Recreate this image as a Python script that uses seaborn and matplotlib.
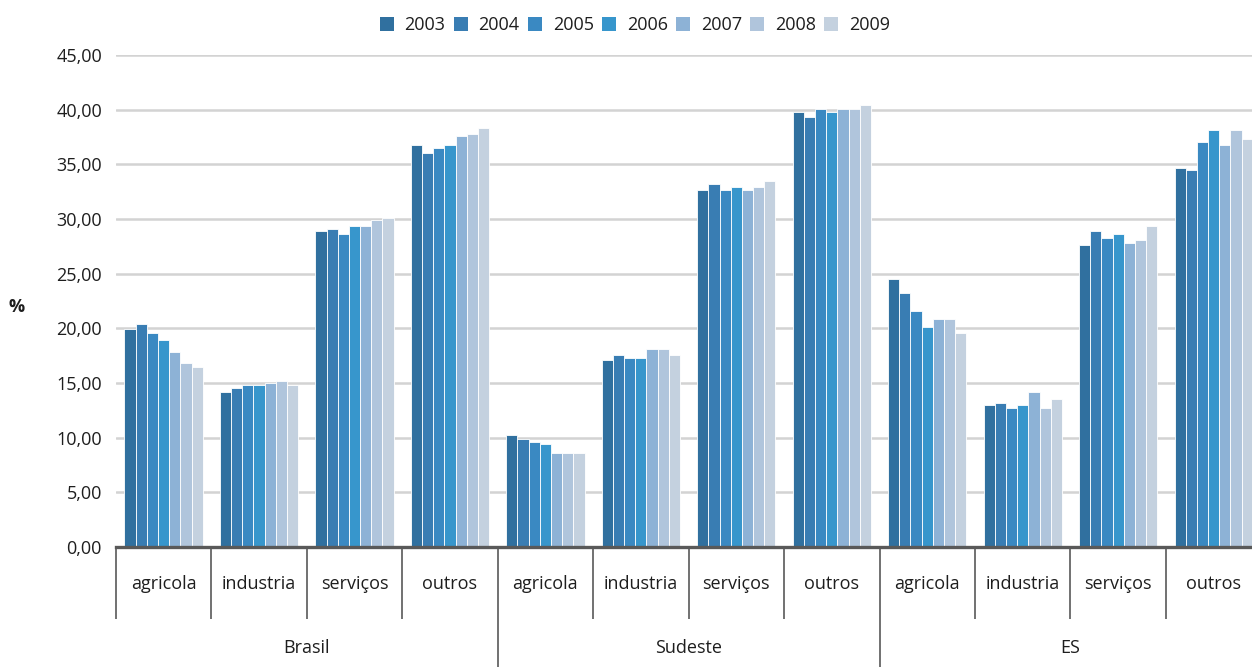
import matplotlib
matplotlib.use("Agg")
import matplotlib.pyplot as plt
import matplotlib.transforms as mtransforms
from matplotlib.patches import Patch
from matplotlib.ticker import FuncFormatter, MultipleLocator
import seaborn as sns
import pandas as pd

# Participação (%) por setor, região e ano
regions = ["Brasil", "Sudeste", "ES"]
sectors = ["agricola", "industria", "serviços", "outros"]
years = ["2003", "2004", "2005", "2006", "2007", "2008", "2009"]

brasil_agricola = [19.9, 20.4, 19.6, 18.9, 17.8, 16.8, 16.5]
brasil_industria = [14.2, 14.5, 14.8, 14.8, 15.0, 15.2, 14.8]
brasil_servicos = [28.9, 29.1, 28.6, 29.4, 29.4, 29.9, 30.1]
brasil_outros = [36.8, 36.0, 36.5, 36.8, 37.6, 37.8, 38.3]

sudeste_agricola = [10.2, 9.9, 9.6, 9.4, 8.6, 8.6, 8.6]
sudeste_industria = [17.1, 17.6, 17.3, 17.3, 18.1, 18.1, 17.6]
sudeste_servicos = [32.7, 33.2, 32.7, 32.9, 32.7, 32.9, 33.5]
sudeste_outros = [39.8, 39.3, 40.1, 39.8, 40.1, 40.1, 40.4]

es_agricola = [24.5, 23.2, 21.6, 20.1, 20.9, 20.9, 19.6]
es_industria = [13.0, 13.2, 12.7, 13.0, 14.2, 12.7, 13.5]
es_servicos = [27.6, 28.9, 28.3, 28.6, 27.8, 28.1, 29.4]
es_outros = [34.7, 34.5, 37.0, 38.1, 36.8, 38.1, 37.3]

year_colors = ["#30709f", "#397db3", "#3a89c2", "#3796cc",
               "#8db2d6", "#b0c5dc", "#c4d1df"]

series = {
    ("Brasil", "agricola"): brasil_agricola,
    ("Brasil", "industria"): brasil_industria,
    ("Brasil", "serviços"): brasil_servicos,
    ("Brasil", "outros"): brasil_outros,
    ("Sudeste", "agricola"): sudeste_agricola,
    ("Sudeste", "industria"): sudeste_industria,
    ("Sudeste", "serviços"): sudeste_servicos,
    ("Sudeste", "outros"): sudeste_outros,
    ("ES", "agricola"): es_agricola,
    ("ES", "industria"): es_industria,
    ("ES", "serviços"): es_servicos,
    ("ES", "outros"): es_outros,
}

rows = []
order = []
for region in regions:
    for sector in sectors:
        key = f"{region}|{sector}"
        order.append(key)
        for year, value in zip(years, series[(region, sector)]):
            rows.append({"grupo": key, "ano": year, "valor": value})
df = pd.DataFrame(rows)

sns.set_theme(style="white")
plt.rcParams["font.family"] = ["Open Sans", "DejaVu Sans"]
text_color = "#1e1e1e"
line_color = "#595959"

fig = plt.figure(figsize=(12.52, 6.67), dpi=100)
ax = fig.add_axes([0.0925, 0.1799, 0.915, 0.7376])

sns.barplot(data=df, x="grupo", y="valor", hue="ano", order=order,
            hue_order=years, palette=year_colors, width=0.82, saturation=1,
            edgecolor="white", linewidth=0.6, legend=False, ax=ax)

ax.set_xlim(-0.5, len(order) - 0.5)
ax.set_ylim(0, 45)
ax.yaxis.set_major_locator(MultipleLocator(5))
ax.yaxis.set_major_formatter(FuncFormatter(lambda v, _: f"{v:.2f}".replace(".", ",")))
ax.yaxis.grid(True, color="#d3d3d3", linewidth=1.8)
ax.set_axisbelow(True)
ax.tick_params(axis="y", length=0, pad=10, labelsize=13, labelcolor=text_color)
ax.set_xticks([])
ax.set_xlabel("")
ax.set_ylabel("")
for side in ("left", "top", "right"):
    ax.spines[side].set_visible(False)
ax.spines["bottom"].set_color(line_color)
ax.spines["bottom"].set_linewidth(2.4)

# Category axis: sector labels, dividers and region labels below the bars
trans = mtransforms.blended_transform_factory(ax.transData, ax.transAxes)
n_sec = len(sectors)
for i, key in enumerate(order):
    region, sector = key.split("|")
    ax.text(i, -0.075, sector, transform=trans, ha="center", va="center",
            fontsize=13, color=text_color)
for b in range(len(order) + 1):
    x = b - 0.5
    bottom = -0.244 if (b % n_sec == 0 and 0 < b < len(order)) else -0.146
    ax.plot([x, x], [0, bottom], transform=trans, color=line_color,
            linewidth=1.2, clip_on=False, solid_capstyle="butt")
for r, region in enumerate(regions):
    center = r * n_sec + (n_sec - 1) / 2
    ax.text(center, -0.205, region, transform=trans, ha="center", va="center",
            fontsize=13, color=text_color)

fig.text(17 / 1252, 1 - 307 / 667, "%", ha="center", va="center",
         fontsize=13, fontweight="bold", color=text_color)

handles = [Patch(facecolor=c, edgecolor="none") for c in year_colors]
fig.legend(handles, years, loc="center", bbox_to_anchor=(0.507, 0.962),
           ncol=len(years), frameon=False, fontsize=13,
           handlelength=0.78, handleheight=0.78, handletextpad=0.6,
           columnspacing=0.45, labelcolor=text_color)

fig.savefig("out.png", dpi=100)
